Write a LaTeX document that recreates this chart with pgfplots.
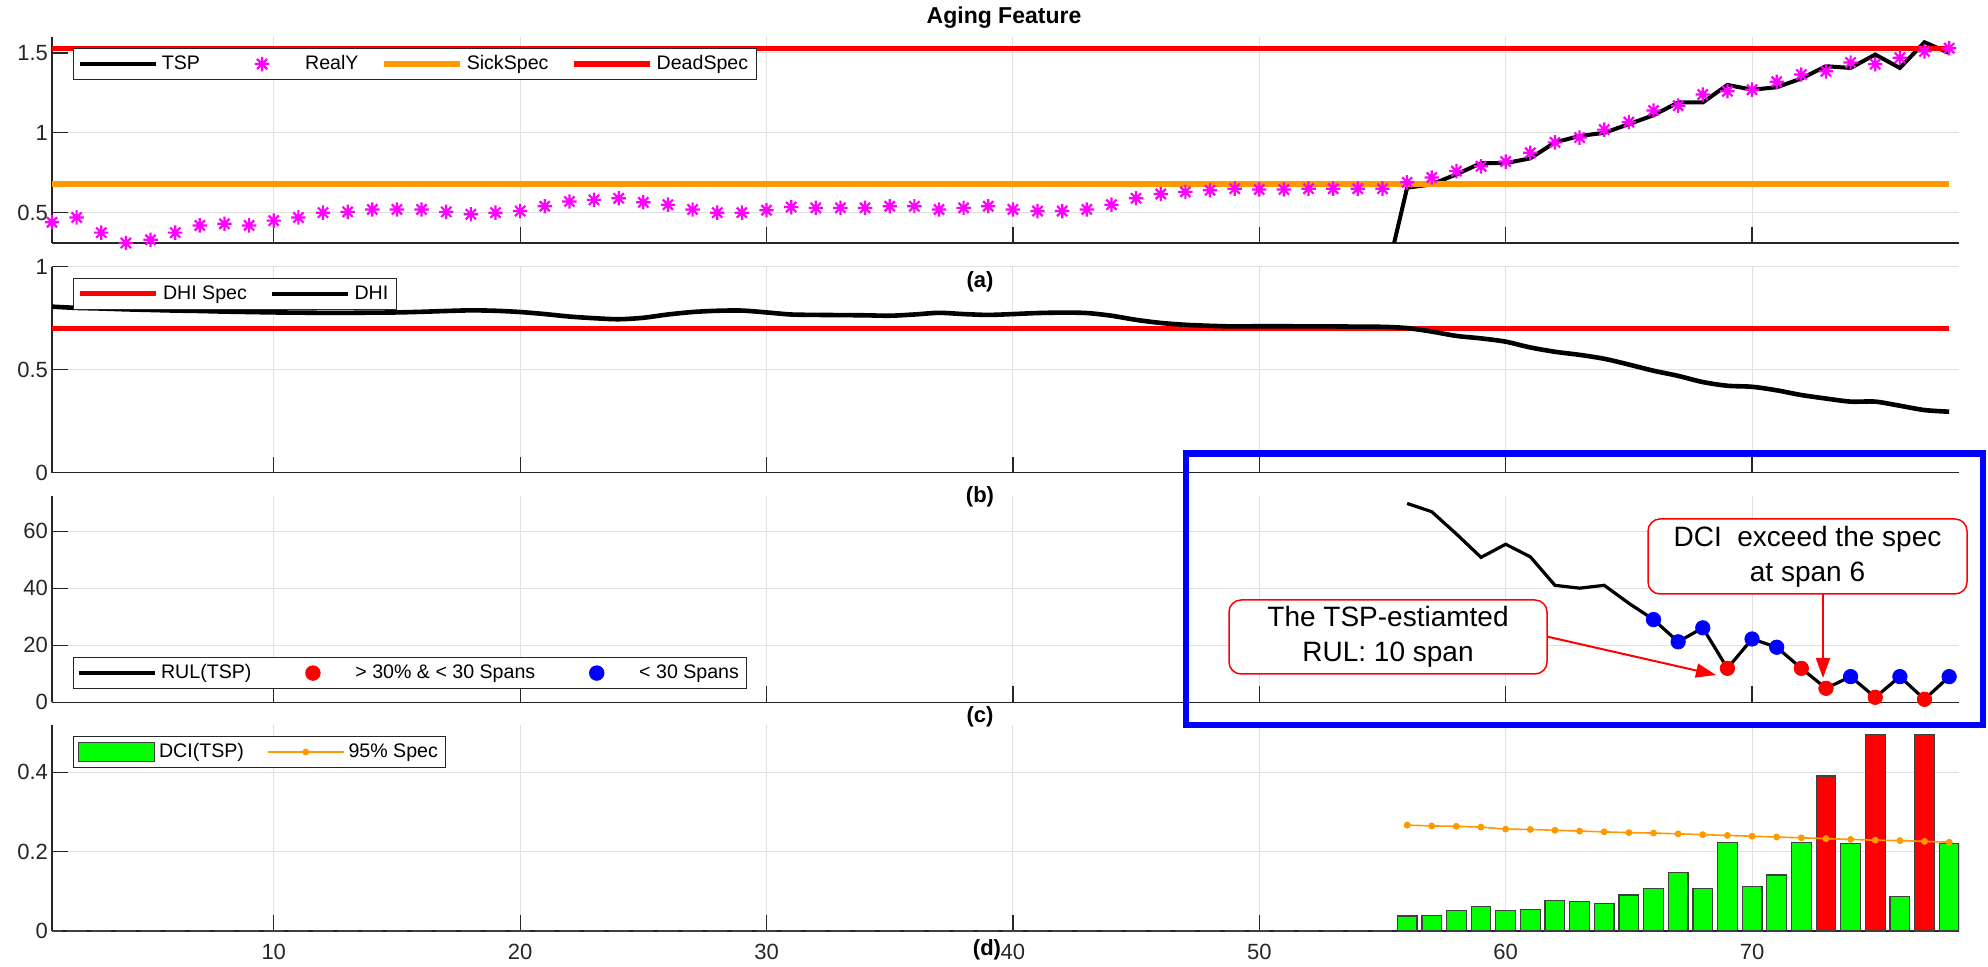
\documentclass[border=0pt]{standalone}
\usepackage{pgfplots}
\pgfplotsset{compat=1.18}
\usepackage{fontspec}
\setmainfont{Liberation Sans}
\usetikzlibrary{arrows.meta}

\definecolor{mOrange}{RGB}{255,153,0}
\definecolor{mMag}{RGB}{255,0,255}
\definecolor{mRed}{RGB}{255,0,0}
\definecolor{mGreen}{RGB}{0,255,0}
\definecolor{mBlue}{RGB}{0,0,255}
\definecolor{axgray}{RGB}{38,38,38}

\pgfdeclareplotmark{mstar}{%
  \pgfpathmoveto{\pgfqpoint{0pt}{\pgfplotmarksize}}%
  \pgfpathlineto{\pgfqpoint{0pt}{-\pgfplotmarksize}}%
  \pgfpathmoveto{\pgfqpoint{\pgfplotmarksize}{0pt}}%
  \pgfpathlineto{\pgfqpoint{-\pgfplotmarksize}{0pt}}%
  \pgfpathmoveto{\pgfqpoint{0.707\pgfplotmarksize}{0.707\pgfplotmarksize}}%
  \pgfpathlineto{\pgfqpoint{-0.707\pgfplotmarksize}{-0.707\pgfplotmarksize}}%
  \pgfpathmoveto{\pgfqpoint{0.707\pgfplotmarksize}{-0.707\pgfplotmarksize}}%
  \pgfpathlineto{\pgfqpoint{-0.707\pgfplotmarksize}{0.707\pgfplotmarksize}}%
  \pgfusepathqstroke}

\pgfplotsset{
  myaxis/.style={
    scale only axis, width=953.5pt, height=103pt, anchor=south west,
    xmin=1, xmax=78.4,
    xtick={10,20,...,70},
    axis x line*=bottom, axis y line*=left,
    axis line style={axgray, line width=0.6pt, -},
    tick align=inside,
    major tick length=8pt,
    major tick style={axgray, line width=0.6pt},
    grid=major,
    major grid style={black!12, line width=0.5pt},
    tick label style={font=\fontsize{11}{13}\selectfont, text=axgray},
    xticklabel style={yshift=-3pt},
    yticklabel style={xshift=1.5pt},
    /pgf/number format/assume math mode=true,
    legend cell align=left,
    legend style={font=\fontsize{9.8}{11}\selectfont, draw=axgray, line width=0.5pt,
      anchor=north west, inner xsep=2pt, inner ysep=1.5pt,
      /tikz/every even column/.append style={column sep=9.5pt}},
    legend image code/.code={\draw[mark repeat=2,mark phase=2,##1] plot coordinates {(0pt,0pt) (19pt,0pt) (38pt,0pt)};},
  },
  barleg/.style={legend image code/.code={\draw[##1] (0pt,-4.75pt) rectangle (38pt,4.75pt);}},
  markleg/.style={legend image code/.code={\path (0pt,0pt) (38pt,0pt); \draw[##1] plot coordinates {(19pt,0pt)};}},
}

\begin{document}
\begin{tikzpicture}
\path[use as bounding box] (0,0) rectangle (994pt,-483.5pt);

% ---------------- (a) ----------------
\begin{axis}[myaxis, at={(26pt,-121.5pt)}, ymin=0.31, ymax=1.6, ytick={0.5,1,1.5},
  xticklabels={}, legend columns=4, legend style={at={(0.0112,0.9466)}}]
\addplot[black, line width=2pt] table {
55 0.0
56 0.656
57 0.677
58 0.74
59 0.81
60 0.81
61 0.84
62 0.94
63 0.98
64 1.00
65 1.054
66 1.11
67 1.19
68 1.19
69 1.30
70 1.27
71 1.285
72 1.34
73 1.417
74 1.406
75 1.49
76 1.406
77 1.567
78 1.50
};
\addplot[only marks, mark=mstar, mark size=3.6pt, color=mMag, line width=1.1pt, markleg] table {
1 0.44
2 0.47
3 0.375
4 0.31
5 0.33
6 0.375
7 0.42
8 0.43
9 0.42
10 0.45
11 0.47
12 0.50
13 0.505
14 0.52
15 0.52
16 0.52
17 0.505
18 0.49
19 0.50
20 0.51
21 0.54
22 0.57
23 0.58
24 0.59
25 0.565
26 0.55
27 0.52
28 0.50
29 0.50
30 0.515
31 0.535
32 0.53
33 0.53
34 0.53
35 0.54
36 0.54
37 0.52
38 0.53
39 0.54
40 0.52
41 0.51
42 0.51
43 0.52
44 0.55
45 0.59
46 0.617
47 0.63
48 0.64
49 0.65
50 0.645
51 0.645
52 0.65
53 0.65
54 0.65
55 0.65
56 0.69
57 0.72
58 0.76
59 0.79
60 0.82
61 0.875
62 0.94
63 0.97
64 1.02
65 1.067
66 1.14
67 1.17
68 1.24
69 1.26
70 1.27
71 1.32
72 1.365
73 1.385
74 1.44
75 1.43
76 1.47
77 1.51
78 1.53
};
\addplot[mOrange, line width=2.6pt] coordinates {(1,0.68) (78,0.68)};
\addplot[mRed, line width=2.6pt] coordinates {(1,1.53) (78,1.53)};
\legend{TSP, RealY, SickSpec, DeadSpec}
\end{axis}

% ---------------- (b) ----------------
\begin{axis}[myaxis, at={(26pt,-236.35pt)}, ymin=0, ymax=1, ytick={0,0.5,1},
  xticklabels={}, legend columns=2, legend style={at={(0.0112,0.945)}}]
\addplot[mRed, line width=2.6pt] coordinates {(1,0.70) (78,0.70)};
\addplot[black, line width=2.3pt, smooth] table {
1 0.806
2 0.80
3 0.797
4 0.793
5 0.79
6 0.787
7 0.785
8 0.782
9 0.78
10 0.778
11 0.777
12 0.776
13 0.776
14 0.777
15 0.778
16 0.781
17 0.785
18 0.788
19 0.786
20 0.78
21 0.77
22 0.758
23 0.75
24 0.745
25 0.752
26 0.768
27 0.78
28 0.786
29 0.787
30 0.778
31 0.768
32 0.766
33 0.765
34 0.764
35 0.762
36 0.768
37 0.776
38 0.770
39 0.766
40 0.770
41 0.775
42 0.777
43 0.775
44 0.762
45 0.742
46 0.727
47 0.718
48 0.713
49 0.710
50 0.711
51 0.711
52 0.710
53 0.710
54 0.709
55 0.708
56 0.702
57 0.685
58 0.664
59 0.652
60 0.636
61 0.608
62 0.587
63 0.572
64 0.553
65 0.525
66 0.495
67 0.470
68 0.440
69 0.422
70 0.417
71 0.400
72 0.377
73 0.360
74 0.345
75 0.345
76 0.325
77 0.304
78 0.296
};
\legend{DHI Spec, DHI}
\end{axis}

% ---------------- (c) ----------------
\begin{axis}[myaxis, at={(26pt,-351.15pt)}, ymin=0, ymax=72.2, ytick={0,20,40,60},
  xticklabels={}, legend columns=3, legend style={at={(0.0112,0.22)}}]
\addplot[black, line width=1.6pt] table {
56 69.7
57 66.8
58 59
59 50.8
60 55.4
61 51
62 41
63 40
64 41
65 34.7
66 29
67 21.2
68 26.1
69 11.9
70 22.2
71 19.3
72 11.9
73 4.9
74 9
75 1.75
76 9
77 1.05
78 9
};
\addplot[only marks, mark=*, mark size=3.6pt, color=mRed, mark options={draw=mRed, fill=mRed}, markleg] coordinates {
(69,11.9) (72,11.9) (73,4.9) (75,1.75) (77,1.05)};
\addplot[only marks, mark=*, mark size=3.6pt, color=mBlue, mark options={draw=mBlue, fill=mBlue}, markleg] coordinates {
(66,29) (67,21.2) (68,26.1) (70,22.2) (71,19.3) (74,9) (76,9) (78,9)};
\legend{RUL(TSP), {> 30\% \& < 30 Spans}, {< 30 Spans}}
\end{axis}

% ---------------- (d) ----------------
\begin{axis}[myaxis, at={(26pt,-465.5pt)}, ymin=0, ymax=0.5195, ytick={0,0.2,0.4},
  legend columns=2, legend style={at={(0.0112,0.947)}}]
\addplot[ybar, bar width=0.8, bar shift=0pt, fill=mGreen, draw=black!75, line width=0.6pt, barleg] coordinates {
(1,0) (2,0) (3,0) (4,0) (5,0) (6,0) (7,0) (8,0) (9,0) (10,0)
(11,0) (12,0) (13,0) (14,0) (15,0) (16,0) (17,0) (18,0) (19,0) (20,0)
(21,0) (22,0) (23,0) (24,0) (25,0) (26,0) (27,0) (28,0) (29,0) (30,0)
(31,0) (32,0) (33,0) (34,0) (35,0) (36,0) (37,0) (38,0) (39,0) (40,0)
(41,0) (42,0) (43,0) (44,0) (45,0) (46,0) (47,0) (48,0) (49,0) (50,0)
(51,0) (52,0) (53,0) (54,0) (55,0)
(56,0.038) (57,0.040) (58,0.052) (59,0.061) (60,0.052) (61,0.055)
(62,0.077) (63,0.074) (64,0.069) (65,0.091) (66,0.108) (67,0.147)
(68,0.108) (69,0.223) (70,0.113) (71,0.141) (72,0.223) (74,0.220)
(76,0.088) (78,0.220)};
\addplot[ybar, bar width=0.8, bar shift=0pt, fill=mRed, draw=black!75, line width=0.6pt, forget plot] coordinates {
(73,0.391) (75,0.496) (77,0.496)};
\addplot[mOrange, line width=0.8pt, mark=*, mark size=1.3pt, mark options={fill=mOrange, draw=mOrange}] coordinates {
(56,0.267) (57,0.265) (58,0.264) (59,0.262) (60,0.257) (61,0.256) (62,0.254) (63,0.252)
(64,0.250) (65,0.248) (66,0.247) (67,0.245) (68,0.243) (69,0.241) (70,0.239) (71,0.237)
(72,0.235) (73,0.233) (74,0.231) (75,0.229) (76,0.228) (77,0.226) (78,0.224)};
\legend{DCI(TSP), 95\% Spec}
\end{axis}

% titles and panel labels
\node[font=\bfseries\fontsize{11.5}{13}\selectfont] at (502pt,-9pt) {Aging Feature};
\node[font=\bfseries\fontsize{11}{13}\selectfont] at (490pt,-140.8pt) {(a)};
\node[font=\bfseries\fontsize{11}{13}\selectfont] at (490pt,-248.3pt) {(b)};
\node[font=\bfseries\fontsize{11}{13}\selectfont] at (490pt,-358.3pt) {(c)};
\node[font=\bfseries\fontsize{11}{13}\selectfont] at (493.5pt,-475pt) {(d)};

% highlight box
\draw[mBlue, line width=3.4pt] (593pt,-226.75pt) rectangle (991.5pt,-362.5pt);

% annotations
\draw[mRed, line width=1pt, -{Triangle[length=10pt,width=7pt]}] (773.75pt,-318.35pt) -- (858pt,-337.5pt);
\draw[mRed, line width=1pt, -{Triangle[length=10pt,width=7pt]}] (911.5pt,-297pt) -- (911.5pt,-339pt);
\node[draw=mRed, fill=white, line width=0.75pt, rounded corners=6pt, minimum width=159pt, minimum height=37pt,
  align=center, font=\fontsize{14}{17.5}\selectfont, inner sep=1pt] at (694pt,-318.5pt) {The TSP-estiamted\\RUL: 10 span};
\node[draw=mRed, fill=white, line width=0.75pt, rounded corners=6pt, minimum width=159.5pt, minimum height=37.5pt,
  align=center, font=\fontsize{14}{17.5}\selectfont, inner sep=1pt] at (903.75pt,-278.25pt) {DCI\ \ exceed the spec\\at span 6};
\end{tikzpicture}
\end{document}
